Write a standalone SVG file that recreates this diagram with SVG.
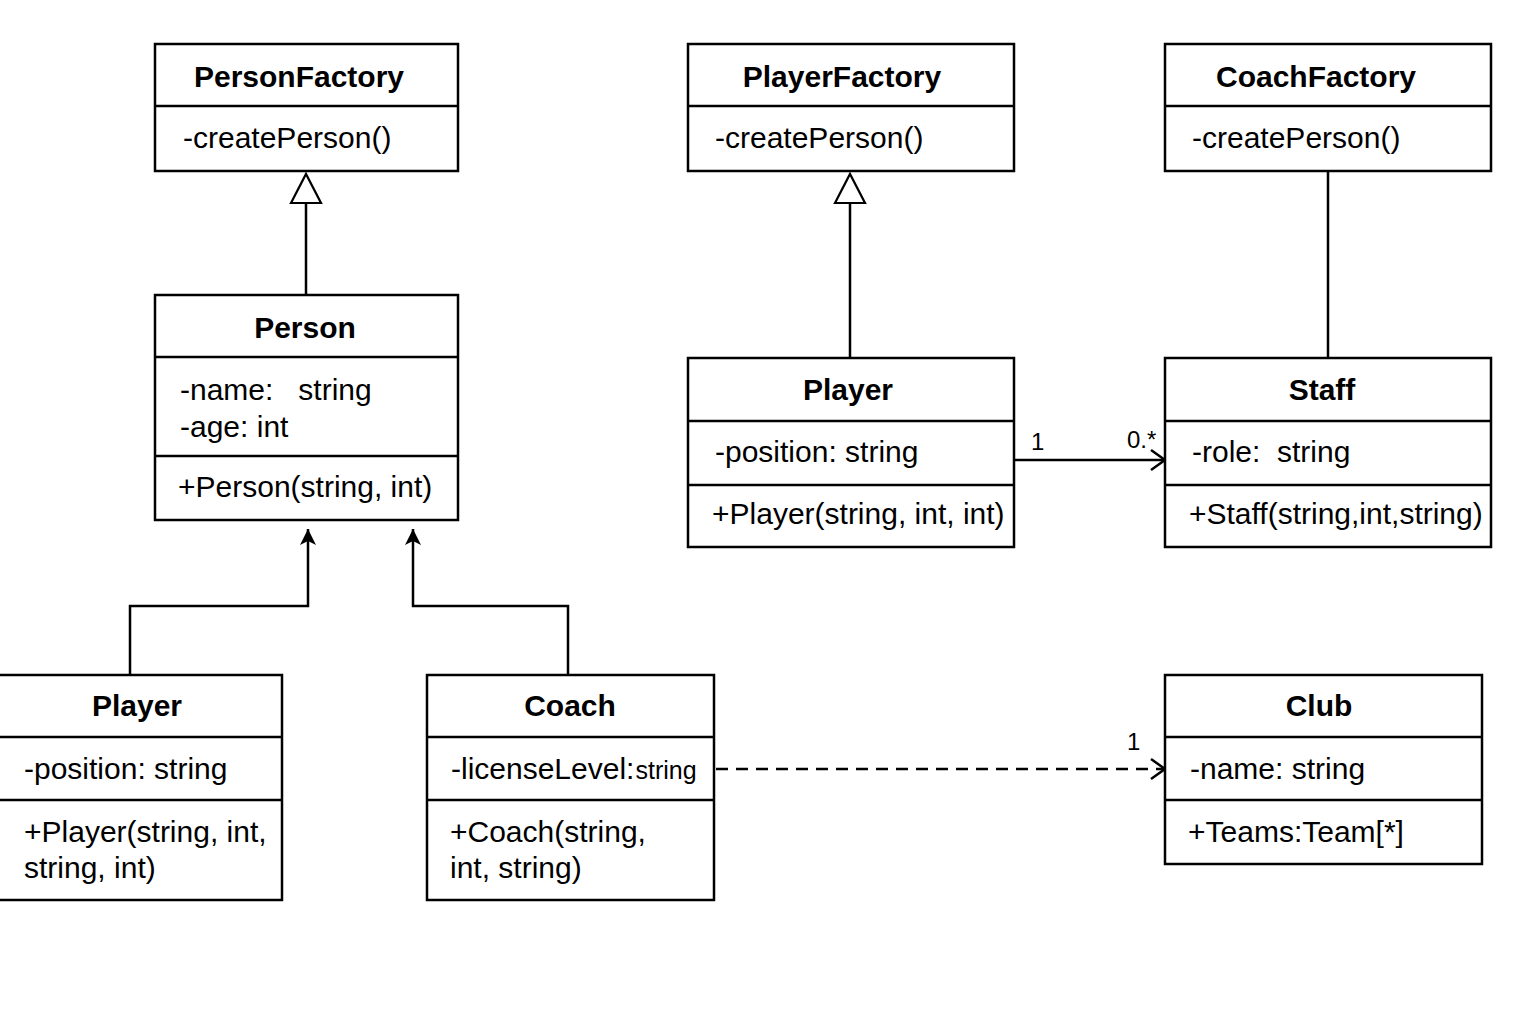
<svg xmlns="http://www.w3.org/2000/svg" width="1536" height="1024" viewBox="0 0 1536 1024">
<style>
.box{fill:#fff;stroke:#000;stroke-width:2.5}
.div{stroke:#000;stroke-width:2.5}
.t{font-family:"Liberation Sans",Arial,sans-serif;font-size:30px;font-weight:bold;text-anchor:middle;fill:#000}
.b{font-family:"Liberation Sans",Arial,sans-serif;font-size:30px;fill:#000}
.m{font-family:"Liberation Sans",Arial,sans-serif;font-size:24px;fill:#000}
.ln{fill:none;stroke:#000;stroke-width:2.5}
</style>
<defs>
<marker id="fill" markerUnits="userSpaceOnUse" markerWidth="20" markerHeight="20" refX="18" refY="10" orient="auto" viewBox="0 0 20 20">
<path d="M2,2 L18,10 L2,18 L6,10 Z" fill="#000"/>
</marker>
<marker id="open" markerUnits="userSpaceOnUse" markerWidth="20" markerHeight="24" refX="17" refY="12" orient="auto" viewBox="0 0 20 24">
<path d="M3,2 L17,12 L3,22" fill="none" stroke="#000" stroke-width="2.5"/>
</marker>
</defs>
<rect width="1536" height="1024" fill="#fff"/>

<g id="connectors">
<line class="ln" x1="306" y1="294" x2="306" y2="203"/>
<path d="M291,203 L306,174 L321,203 Z" fill="#fff" stroke="#000" stroke-width="2.2"/>
<line class="ln" x1="850" y1="358" x2="850" y2="203"/>
<path d="M835,203 L850,174 L865,203 Z" fill="#fff" stroke="#000" stroke-width="2.2"/>
<line class="ln" x1="1328" y1="171" x2="1328" y2="358"/>
<polyline class="ln" points="130,675 130,606 308,606 308,529" marker-end="url(#fill)"/>
<polyline class="ln" points="568,675 568,606 413,606 413,529" marker-end="url(#fill)"/>
<line class="ln" x1="1014" y1="460" x2="1165" y2="460" marker-end="url(#open)"/>
<text class="m" x="1031" y="450">1</text>
<text class="m" x="1127" y="448">0.*</text>
<line class="ln" x1="716" y1="769" x2="1165" y2="769" stroke-dasharray="12,8" marker-end="url(#open)"/>
<text class="m" x="1127" y="750">1</text>
</g>

<g id="PersonFactory">
<rect class="box" x="155" y="44" width="303" height="127"/>
<line class="div" x1="155" y1="106" x2="458" y2="106"/>
<text class="t" x="299" y="87">PersonFactory</text>
<text class="b" x="183" y="148">-createPerson()</text>
</g>

<g id="Person">
<rect class="box" x="155" y="295" width="303" height="225"/>
<line class="div" x1="155" y1="357" x2="458" y2="357"/>
<line class="div" x1="155" y1="456" x2="458" y2="456"/>
<text class="t" x="305" y="338">Person</text>
<text class="b" x="180" y="400" xml:space="preserve">-name:   string</text>
<text class="b" x="180" y="437">-age: int</text>
<text class="b" x="178" y="497">+Person(string, int)</text>
</g>

<g id="PlayerLeft">
<rect class="box" x="-2" y="675" width="284" height="225"/>
<line class="div" x1="-2" y1="737" x2="282" y2="737"/>
<line class="div" x1="-2" y1="800" x2="282" y2="800"/>
<text class="t" x="137" y="716">Player</text>
<text class="b" x="24" y="779">-position: string</text>
<text class="b" x="24" y="842">+Player(string, int,</text>
<text class="b" x="24" y="878">string, int)</text>
</g>

<g id="Coach">
<rect class="box" x="427" y="675" width="287" height="225"/>
<line class="div" x1="427" y1="737" x2="714" y2="737"/>
<line class="div" x1="427" y1="800" x2="714" y2="800"/>
<text class="t" x="570" y="716">Coach</text>
<text class="b" x="451" y="779">-licenseLevel:<tspan font-size="25px" dx="1">string</tspan></text>
<text class="b" x="450" y="842">+Coach(string,</text>
<text class="b" x="450" y="878">int, string)</text>
</g>

<g id="PlayerFactory">
<rect class="box" x="688" y="44" width="326" height="127"/>
<line class="div" x1="688" y1="106" x2="1014" y2="106"/>
<text class="t" x="842" y="87">PlayerFactory</text>
<text class="b" x="715" y="148">-createPerson()</text>
</g>

<g id="CoachFactory">
<rect class="box" x="1165" y="44" width="326" height="127"/>
<line class="div" x1="1165" y1="106" x2="1491" y2="106"/>
<text class="t" x="1316" y="87">CoachFactory</text>
<text class="b" x="1192" y="148">-createPerson()</text>
</g>

<g id="PlayerRight">
<rect class="box" x="688" y="358" width="326" height="189"/>
<line class="div" x1="688" y1="421" x2="1014" y2="421"/>
<line class="div" x1="688" y1="485" x2="1014" y2="485"/>
<text class="t" x="848" y="400">Player</text>
<text class="b" x="715" y="462">-position: string</text>
<text class="b" x="712" y="524">+Player(string, int, int)</text>
</g>

<g id="Staff">
<rect class="box" x="1165" y="358" width="326" height="189"/>
<line class="div" x1="1165" y1="421" x2="1491" y2="421"/>
<line class="div" x1="1165" y1="485" x2="1491" y2="485"/>
<text class="t" x="1322" y="400">Staff</text>
<text class="b" x="1192" y="462" xml:space="preserve">-role:  string</text>
<text class="b" x="1189" y="524">+Staff(string,int,string)</text>
</g>

<g id="Club">
<rect class="box" x="1165" y="675" width="317" height="189"/>
<line class="div" x1="1165" y1="737" x2="1482" y2="737"/>
<line class="div" x1="1165" y1="800" x2="1482" y2="800"/>
<text class="t" x="1319" y="716">Club</text>
<text class="b" x="1190" y="779">-name: string</text>
<text class="b" x="1188" y="842">+Teams:Team[*]</text>
</g>
</svg>
